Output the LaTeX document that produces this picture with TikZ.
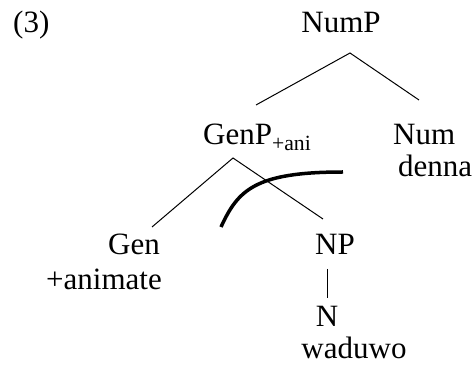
\documentclass[tikz,border=0pt]{standalone}
\usepackage{fontspec}
\setmainfont{Liberation Serif}
\begin{document}
\begin{tikzpicture}[x=1pt,y=-1pt,
  every node/.style={inner sep=0pt,font=\fontsize{31}{37}\selectfont},
  lab/.style={anchor=base},
  branch/.style={line width=1pt},
  move/.style={line width=3.5pt}]
  \useasboundingbox (0,0) rectangle (475,366);

  % Example number and labels of the tree
  \node[anchor=base west] (ex) at (13,33) {(3)};
  \node[lab] (numP) at (341,33) {NumP};
  \node[anchor=base west] (genP) at (203,145) {GenP\textsubscript{+ani}};
  \node[anchor=base west] (num) at (393,145) {Num};
  \node[anchor=base west] (denna) at (398,177) {denna};
  \node[anchor=base east] (gen) at (160,255) {Gen};
  \node[anchor=base east] (anim) at (162,290) {+animate};
  \node[lab] (np) at (335,255) {NP};
  \node[lab] (n) at (327,327) {N};
  \node[lab] (waduwo) at (354,359) {waduwo};

  % Branch points
  \coordinate (numP-top) at (350,53);
  \coordinate (genP-left) at (256,105);
  \coordinate (num-left) at (419,100);
  \coordinate (genP-top) at (233,158);
  \coordinate (gen-right) at (152,227);
  \coordinate (np-left) at (323,219);
  \coordinate (np-bot) at (327,269);
  \coordinate (n-top) at (327,298);

  % Branches
  \draw[branch] (genP-left) -- (numP-top) -- (num-left);
  \draw[branch] (gen-right) -- (genP-top) -- (np-left);
  \draw[branch] (np-bot) -- (n-top);

  % Movement curve
  \coordinate (mv-start) at (221,227);
  \coordinate (mv-end) at (343,172);
  \draw[move] (mv-start) .. controls (238,190) and (255,172) .. (mv-end);
\end{tikzpicture}
\end{document}
